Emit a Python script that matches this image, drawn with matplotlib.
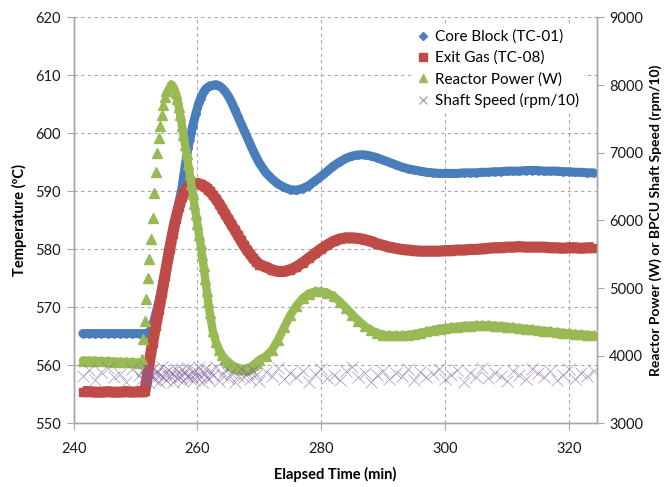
import numpy as np
import matplotlib
matplotlib.use("Agg")
import matplotlib.pyplot as plt
from matplotlib.lines import Line2D

plt.rcParams['font.family'] = ['Lato', 'DejaVu Sans']

# ---- data ----
time_min = np.concatenate([
    np.arange(241.5, 251.0, 1.0),
    np.arange(251.0, 262.01, 0.25),
    np.arange(262.5, 270.01, 0.5),
    np.arange(271.0, 324.01, 1.0),
])

core_block = [
    565.5, 565.5, 565.5, 565.5, 565.5, 565.5, 565.5, 565.5, 565.5, 565.5,
    565.5, 565.5, 565.5, 565.5, 565.6, 565.8, 566.2, 566.9, 567.8, 568.8,
    569.8, 570.9, 572.0, 573.3, 574.6, 575.9, 577.2, 578.6, 580.0, 581.4,
    582.8, 584.1, 585.4, 586.7, 588.0, 589.3, 590.6, 592.4, 594.2, 596.0,
    597.5, 598.9, 600.1, 601.3, 602.4, 603.4, 604.4, 605.3, 606.0, 606.6,
    607.1, 607.5, 607.8, 608.0, 608.2,
    608.3, 608.4, 608.2, 607.8, 607.2, 606.4, 605.4, 604.2, 603.0, 601.8,
    600.6, 599.4, 598.2, 597.0, 595.9, 594.9,
    593.3, 592.2, 591.3, 590.7, 590.3, 590.2, 590.5, 591.0, 591.8, 592.6,
    593.5, 594.4, 595.1, 595.7, 596.1, 596.3, 596.3, 596.1, 595.8, 595.4,
    595.0, 594.6, 594.2, 593.9, 593.7, 593.5, 593.3, 593.2, 593.1, 593.1,
    593.1, 593.1, 593.2, 593.2, 593.2, 593.3, 593.3, 593.4, 593.4, 593.5,
    593.5, 593.5, 593.6, 593.6, 593.6, 593.5, 593.5, 593.5, 593.4, 593.4,
    593.3, 593.3, 593.2, 593.2,
]

exit_gas = [
    555.5, 555.5, 555.4, 555.4, 555.5, 555.4, 555.4, 555.5, 555.4, 555.5,
    555.5, 555.5, 555.6, 557.0, 558.8, 560.6, 562.3, 563.9, 565.4, 566.8,
    568.2, 569.6, 571.0, 572.5, 574.0, 575.5, 577.0, 578.5, 580.0, 581.4,
    582.7, 584.0, 585.2, 586.3, 587.3, 588.2, 589.0, 589.6, 590.1, 590.5,
    590.8, 591.0, 591.2, 591.3, 591.4, 591.4, 591.4, 591.3, 591.2, 591.1,
    590.9, 590.8, 590.6, 590.3, 590.0,
    589.4, 588.7, 587.9, 587.0, 586.1, 585.2, 584.3, 583.4, 582.5, 581.6,
    580.7, 579.9, 579.2, 578.5, 577.9, 577.4,
    577.0, 576.5, 576.2, 576.2, 576.5, 577.0, 577.7, 578.5, 579.3, 580.1,
    580.8, 581.4, 581.8, 582.0, 582.0, 581.9, 581.7, 581.4, 581.0, 580.7,
    580.4, 580.2, 580.0, 579.9, 579.8, 579.7, 579.7, 579.7, 579.7, 579.8,
    579.8, 579.9, 579.9, 580.0, 580.0, 580.1, 580.2, 580.3, 580.3, 580.4,
    580.4, 580.5, 580.4, 580.4, 580.4, 580.4, 580.3, 580.3, 580.2, 580.3,
    580.3, 580.2, 580.3, 580.3,
]

reactor_power = [
    3930, 3930, 3925, 3920, 3920, 3915, 3910, 3910, 3905, 3900,
    3950, 4250, 4520, 4840, 5150, 5430, 5720, 6040, 6400, 6720,
    7000, 7220, 7400, 7560, 7710, 7830, 7910, 7965, 7995, 8005,
    7990, 7950, 7880, 7790, 7680, 7550, 7400, 7260, 7120, 6980,
    6840, 6690, 6540, 6390, 6240, 6090, 5940, 5790, 5650, 5490,
    5320, 5140, 4960, 4790, 4630,
    4360, 4200, 4090, 4010, 3950, 3910, 3870, 3840, 3820, 3805,
    3800, 3810, 3830, 3860, 3900, 3940,
    3990, 4080, 4230, 4420, 4600, 4740, 4850, 4920, 4950, 4950,
    4930, 4880, 4800, 4710, 4610, 4520, 4440, 4380, 4340, 4310,
    4300, 4300, 4300, 4310, 4320, 4340, 4360, 4380, 4400, 4410,
    4420, 4430, 4440, 4445, 4450, 4450, 4450, 4445, 4440, 4430,
    4420, 4410, 4400, 4390, 4380, 4370, 4360, 4350, 4340, 4330,
    4320, 4315, 4310, 4300,
]

shaft_speed = [
    3700, 3790, 3640, 3760, 3820, 3680, 3730, 3620, 3800, 3710,
    3660, 3770, 3840, 3690, 3610, 3750, 3700, 3800, 3650, 3730,
    3780, 3620, 3710, 3830, 3680, 3740, 3640, 3790, 3700, 3760,
    3610, 3720, 3810, 3670, 3750, 3690, 3800, 3630, 3740, 3700,
    3820, 3660, 3720, 3780, 3640, 3700, 3760, 3830, 3680, 3620,
    3740, 3800, 3690, 3650, 3770, 3710, 3840, 3630, 3720, 3790,
    3670, 3750, 3610, 3700, 3810, 3680, 3740, 3650, 3790, 3720,
    3630, 3760, 3700, 3820, 3660, 3740, 3690, 3780, 3620, 3730,
    3800, 3670, 3710, 3640, 3770, 3830, 3690, 3750, 3620, 3720,
    3780, 3660, 3740, 3700, 3810, 3640, 3760, 3680, 3730, 3800,
    3650, 3710, 3790, 3620, 3740, 3690, 3820, 3670, 3750, 3700,
    3630, 3780, 3720, 3660, 3810, 3740, 3690, 3770, 3640, 3720,
    3800, 3660, 3750, 3700, 3780,
]

labels = ["Core Block (TC-01)", "Exit Gas (TC-08)", "Reactor Power (W)", "Shaft Speed (rpm/10)"]
c_blue, c_red, c_green, c_purple = "#4A7EBB", "#BE4B48", "#98B954", "#7F63A1"

fig = plt.figure(figsize=(6.69, 4.87), dpi=100)
ax = fig.add_axes([0.110, 0.1304, 0.782, 0.834])
ax2 = ax.twinx()

ax.plot(time_min, core_block, color=c_blue, lw=6.5, solid_capstyle='round', zorder=3)
ax.plot(time_min, core_block, ls='none', marker='D', ms=4.5, color=c_blue, zorder=3)
ax.plot(time_min, exit_gas, color=c_red, lw=8, solid_capstyle='butt', zorder=4)
ax.plot(time_min, exit_gas, ls='none', marker='s', ms=6, color=c_red, zorder=4)

# green: thick band where the signal changes slowly, separate triangles on the fast rise
p_arr = np.asarray(reactor_power, dtype=float)
t_arr = np.asarray(time_min)
band = np.ma.masked_where((t_arr > 250.9) & (t_arr < 255.6), p_arr)
ax2.plot(t_arr, band, color=c_green, lw=6, solid_capstyle='round', zorder=3)
ax2.plot(time_min, reactor_power, ls='none', marker='^', ms=6.5, color=c_green, zorder=3)
ax2.plot(time_min, shaft_speed, ls='none', marker='x', ms=8, mew=0.55, color=c_purple,
         alpha=0.65, zorder=4)

ax.set_xlim(240, 324.5)
ax.set_ylim(550, 620)
ax2.set_ylim(3000, 9000)
ax.set_xticks([240, 260, 280, 300, 320])
ax.set_yticks(np.arange(550, 621, 10))
ax2.set_yticks(np.arange(3000, 9001, 1000))

grid_c = "#A6A6A6"
ax.grid(True, which='major', color=grid_c, ls=(0, (3, 3)), lw=0.8)
ax.set_axisbelow(True)
for a in (ax, ax2):
    a.spines['top'].set_visible(False)
    for s in ('left', 'right', 'bottom'):
        a.spines[s].set_color(grid_c)
        a.spines[s].set_linewidth(1.0)
    a.tick_params(axis='both', colors=grid_c, labelcolor='#1a1a1a', labelsize=10.5,
                  length=5, width=0.8, direction='out')
ax.tick_params(axis='x', pad=8)
ax.tick_params(axis='y', pad=4)
ax2.tick_params(axis='y', pad=4)

ax.set_xlabel("Elapsed Time (min)", fontsize=10.5, fontweight='bold', labelpad=8)
ax.set_ylabel("Temperature (\u00baC)", fontsize=10.5, fontweight='bold', labelpad=6)
ax2.set_ylabel("Reactor Power (W) or BPCU Shaft Speed (rpm/10)", fontsize=10,
               fontweight='bold', labelpad=4)

handles = [
    Line2D([], [], ls='none', marker='D', ms=4.5, color=c_blue),
    Line2D([], [], ls='none', marker='s', ms=6, color=c_red),
    Line2D([], [], ls='none', marker='^', ms=6, color=c_green),
    Line2D([], [], ls='none', marker='x', ms=6, mew=0.8, color="#9a9a9a"),
]
leg = ax2.legend(handles, labels, loc='upper right', bbox_to_anchor=(0.99, 1.0),
                 frameon=True, fontsize=11, handlelength=0.8, handletextpad=0.4,
                 labelspacing=0.45, borderpad=0.3)
leg.get_frame().set_facecolor('white')
leg.get_frame().set_edgecolor('none')
leg.get_frame().set_alpha(1.0)

fig.savefig("out.png", dpi=100)
